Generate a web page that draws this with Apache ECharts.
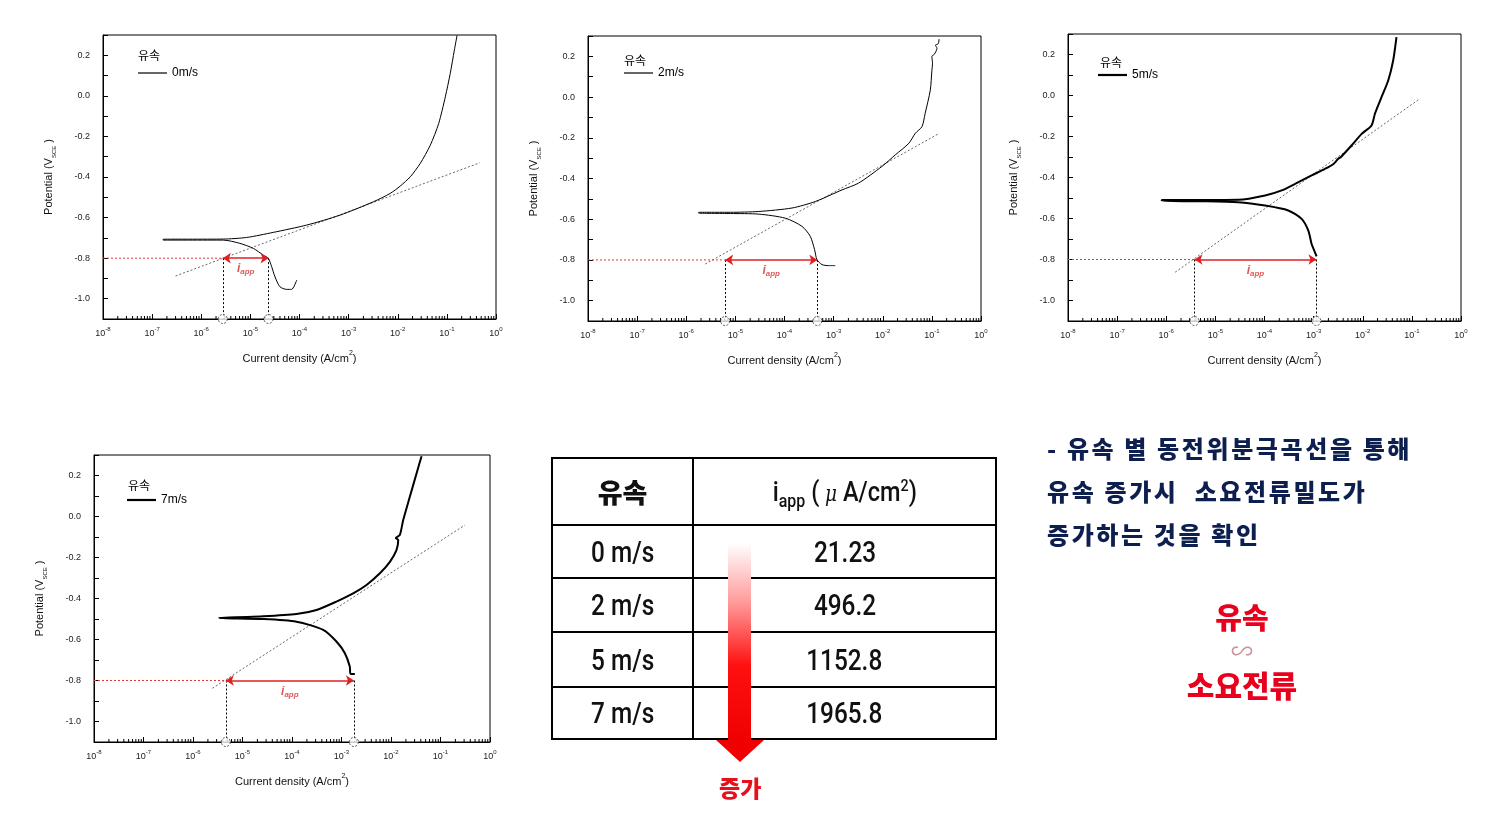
<!DOCTYPE html>
<html>
<head>
<meta charset="utf-8">
<script src="https://cdn.jsdelivr.net/npm/echarts@6/dist/echarts.min.js"></script>
<style>
  html, body { margin: 0; padding: 0; background: #fff; }
  #wrap { position: relative; width: 1506px; height: 823px; overflow: hidden; }
  #main { position: absolute; left: 0; top: 0; width: 1506px; height: 823px; }
  .ov { position: absolute; }
  .hl { position: absolute; background: #000; height: 2px; }
  .vl { position: absolute; background: #000; width: 2px; }
  .cell { position: absolute; display: flex; align-items: center; justify-content: center; color: #111; }
  .num { font-family: Roboto, "Liberation Sans", Arial, sans-serif; font-size: 29px; font-weight: 500; display: inline-block; transform: scaleX(0.84); }
  .kr { font-family: "Noto Sans CJK KR", sans-serif; }
</style>
</head>
<body>
<div id="wrap">
  <div id="main"></div>
  <div id="table"></div>
  <svg class="ov" style="left:0;top:0" width="1506" height="823">
    <defs>
      <linearGradient id="ag" gradientUnits="userSpaceOnUse" x1="0" y1="543" x2="0" y2="741">
        <stop offset="0" stop-color="#ffffff"/>
        <stop offset="0.3" stop-color="#ff9a9a"/>
        <stop offset="0.62" stop-color="#ff1010"/>
        <stop offset="1" stop-color="#f00000"/>
      </linearGradient>
    </defs>
    <rect x="728" y="543" width="23" height="198" fill="url(#ag)"/>
    <polygon points="716,740 764,740 740,762" fill="#f00000"/>
  </svg>
  <div class="ov kr" style="left:719px;top:771px;font-size:23px;font-weight:900;color:#e8101a;line-height:32px;">증가</div>
  <div class="ov kr" id="note" style="left:1047px;top:426px;font-size:24px;font-weight:900;color:#0c1f4e;line-height:43px;white-space:pre;letter-spacing:2.6px;"></div>
  <div class="ov kr" style="left:1142px;top:597px;width:200px;text-align:center;font-size:29px;font-weight:900;color:#e8001c;line-height:38px;">유속</div>
  <div class="ov kr" style="left:1142px;top:636px;width:200px;text-align:center;font-size:22px;color:#c9929c;line-height:26px;">∽</div>
  <div class="ov kr" style="left:1142px;top:665px;width:200px;text-align:center;font-size:30px;font-weight:900;color:#e8001c;line-height:38px;">소요전류</div>
</div>
<script>
// ---------- data ----------
const speeds = ['0m/s', '2m/s', '5m/s', '7m/s'];
const yTicks = ['0.2', '0.0', '-0.2', '-0.4', '-0.6', '-0.8', '-1.0'];

// polarization curves [current density (A/cm2), potential (V_SCE)]
const curve0 = [[8.8e-5,-0.908],[6.9e-5,-0.954],[5.5e-5,-0.954],[4.0e-5,-0.941],[3.17e-5,-0.892],[2.71e-5,-0.842],[2.32e-5,-0.801],[1.83e-5,-0.785],[1.15e-5,-0.752],[6.1e-6,-0.727],[2.8e-6,-0.711],[1.67e-7,-0.711],[1.67e-7,-0.707],[2.8e-6,-0.706],[8.4e-6,-0.698],[2.93e-5,-0.673],[1.4e-4,-0.637],[6.7e-4,-0.588],[3.2e-3,-0.522],[7.0e-3,-0.481],[1.12e-2,-0.445],[1.8e-2,-0.399],[2.87e-2,-0.333],[4.6e-2,-0.243],[6.8e-2,-0.137],[9.3e-2,-0.005],[0.117,0.110],[0.142,0.225],[0.161,0.298]];
const curve2 = [[1.08e-3,-0.828],[7.9e-4,-0.828],[5.8e-4,-0.823],[4.58e-4,-0.799],[4.1e-4,-0.750],[3.35e-4,-0.684],[2.27e-4,-0.635],[1.04e-4,-0.595],[3.0e-5,-0.575],[8e-6,-0.572],[1.79e-6,-0.570],[1.79e-6,-0.566],[8e-6,-0.566],[3.0e-5,-0.562],[1.42e-4,-0.545],[4.24e-4,-0.513],[1.48e-3,-0.456],[3.2e-3,-0.423],[9.6e-3,-0.341],[1.8e-2,-0.284],[3.4e-2,-0.227],[4.6e-2,-0.178],[6.3e-2,-0.145],[7.3e-2,-0.080],[9.3e-2,0.035],[0.100,0.130],[0.103,0.166],[0.100,0.200],[0.112,0.210],[0.127,0.240],[0.118,0.255],[0.135,0.262],[0.140,0.285]];
const curve5 = [[1.15e-3,-0.785],[1.06e-3,-0.764],[9.1e-4,-0.724],[7.8e-4,-0.659],[5.7e-4,-0.602],[3.05e-4,-0.561],[1.03e-4,-0.537],[2.9e-5,-0.521],[5e-6,-0.516],[8.1e-7,-0.514],[8.1e-7,-0.510],[5e-6,-0.510],[2.94e-5,-0.509],[1.03e-4,-0.488],[2.24e-4,-0.463],[4.18e-4,-0.431],[9.1e-4,-0.390],[1.7e-3,-0.358],[2.5e-3,-0.335],[3.17e-3,-0.309],[3.6e-3,-0.300],[5.9e-3,-0.244],[9.5e-3,-0.187],[1.51e-2,-0.146],[1.77e-2,-0.089],[2.41e-2,-0.008],[3.3e-2,0.073],[4.16e-2,0.171],[4.86e-2,0.285]];
const curve7 = [[1.86e-3,-0.768],[1.52e-3,-0.768],[1.47e-3,-0.732],[1.17e-3,-0.667],[7.9e-4,-0.610],[4.26e-4,-0.553],[1.23e-4,-0.513],[2.6e-5,-0.500],[3.37e-6,-0.495],[3.37e-6,-0.492],[2.6e-5,-0.487],[1.23e-4,-0.476],[3.12e-4,-0.456],[7.9e-4,-0.415],[1.72e-3,-0.375],[3.2e-3,-0.334],[5.96e-3,-0.277],[9.5e-3,-0.221],[1.29e-2,-0.164],[1.4e-2,-0.115],[1.25e-2,-0.105],[1.51e-2,-0.090],[1.76e-2,-0.018],[2.4e-2,0.096],[3.28e-2,0.210],[4.14e-2,0.294]];
const curves = [curve0, curve2, curve5, curve7];

// Tafel extrapolation lines (two end points each)
const tafel0 = [[3.0e-7,-0.888],[0.466,-0.330]];
const tafel2 = [[2.44e-6,-0.820],[0.142,-0.178]];
const tafel5 = [[1.52e-6,-0.862],[0.145,-0.016]];
const tafel7 = [[2.47e-6,-0.838],[0.311,-0.042]];
const tafels = [tafel0, tafel2, tafel5, tafel7];

// i_app bounds at -0.8 V [left, right] (A/cm2)
const iapp0 = [2.75e-6, 2.34e-5];
const iapp2 = [6.2e-6, 4.65e-4];
const iapp5 = [3.76e-6, 1.14e-3];
const iapp7 = [4.6e-6, 1.78e-3];
const iapps = [iapp0, iapp2, iapp5, iapp7];
const protectPotential = -0.8;

// table
const tableSpeeds = ['0 m/s', '2 m/s', '5 m/s', '7 m/s'];
const tableIapp = ['21.23', '496.2', '1152.8', '1965.8'];
const noteLines = ['- 유속 별 동전위분극곡선을 통해', '유속 증가시  소요전류밀도가', '증가하는 것을 확인'];

// ---------- layout ----------
const grids = [
  {left: 103, top: 35, width: 393, height: 284},
  {left: 588, top: 36, width: 393, height: 285},
  {left: 1068, top: 34, width: 393, height: 287},
  {left: 94, top: 455, width: 396, height: 287}
];
const legendPos = [
  {title: [138, 49], legend: [138, 67]},
  {title: [624, 54], legend: [624, 67]},
  {title: [1100, 56], legend: [1098, 69]},
  {title: [128, 479], legend: [127, 494]}
];
const curveWidth = [1, 1, 2, 2];

const xMin = 1e-8, xMax = 1, yMin = -1.1, yMax = 0.3;
const minorTicks = [];
for (let n = -8; n < 0; n++) for (let k = 2; k <= 9; k++) minorTicks.push([k * Math.pow(10, n), yMin]);

const FONT = '"Liberation Sans", Arial, sans-serif';
const option = {
  animation: false,
  grid: grids.map(g => Object.assign({show: true, borderColor: '#000', borderWidth: 1, containLabel: false}, g)),
  title: legendPos.map(p => ({text: '유속', left: p.title[0], top: p.title[1], padding: 0,
    textStyle: {fontSize: 12, fontWeight: 'normal', color: '#000', fontFamily: '"Noto Sans CJK KR", sans-serif'}})),
  legend: legendPos.map((p, k) => ({data: [speeds[k]], left: p.legend[0], top: p.legend[1], padding: 0,
    icon: 'rect', itemWidth: 29, itemHeight: curveWidth[k] + 0.2, itemGap: 0, selectedMode: false,
    textStyle: {fontSize: 12, color: '#000', fontFamily: FONT}})),
  xAxis: grids.map((g, k) => ({
    type: 'log', logBase: 10, gridIndex: k, min: xMin, max: xMax, splitNumber: 8,
    axisLine: {show: true, onZero: false, lineStyle: {color: '#000', width: 1}},
    axisTick: {show: true, inside: true, length: 5, lineStyle: {color: '#000'}},
    splitLine: {show: false}, minorTick: {show: false},
    axisLabel: {
      margin: 7, color: '#222',
      formatter: v => '{b|10}{e|' + Math.round(Math.log10(v)) + '}',
      rich: {b: {fontSize: 9, fontFamily: FONT, color: '#222', lineHeight: 12, verticalAlign: 'bottom'},
             e: {fontSize: 6, fontFamily: FONT, color: '#222', lineHeight: 7, verticalAlign: 'top'}}
    },
    name: '{t|Current density (A/cm}{s|2}{t|)}', nameLocation: 'middle', nameGap: 31,
    nameTextStyle: {rich: {t: {fontSize: 11, fontFamily: FONT, color: '#111', lineHeight: 14, verticalAlign: 'bottom'},
                           s: {fontSize: 7, fontFamily: FONT, color: '#111', lineHeight: 9, verticalAlign: 'top'}}}
  })),
  yAxis: grids.map((g, k) => ({
    type: 'value', gridIndex: k, min: yMin, max: yMax, interval: 0.1,
    axisLine: {show: true, onZero: false, lineStyle: {color: '#000', width: 1}},
    axisTick: {show: true, inside: true, length: 5, lineStyle: {color: '#000'}},
    splitLine: {show: false},
    axisLabel: {
      margin: 13, color: '#222', fontSize: 9, fontFamily: FONT,
      formatter: v => { const r = Math.round(v * 10); const s = (r / 10).toFixed(1); return yTicks.indexOf(s) >= 0 ? s : ''; }
    },
    name: '{t|Potential (V}{s|SCE}{t| )}', nameLocation: 'middle', nameRotate: 90, nameGap: 46,
    nameTextStyle: {rich: {t: {fontSize: 11, fontFamily: FONT, color: '#111', lineHeight: 14, verticalAlign: 'top'},
                           s: {fontSize: 6, fontFamily: FONT, color: '#111', lineHeight: 14, verticalAlign: 'bottom'}}}
  })),
  series: []
};

grids.forEach((g, k) => {
  const [a, b] = iapps[k];
  option.series.push(
    {type: 'custom', xAxisIndex: k, yAxisIndex: k, data: minorTicks, silent: true, clip: false,
     renderItem: (params, api) => {
       const p = api.coord([api.value(0), api.value(1)]);
       return {type: 'line', shape: {x1: p[0], y1: p[1], x2: p[0], y2: p[1] - 3}, style: {stroke: '#000', lineWidth: 1}};
     }},
    {type: 'line', name: speeds[k], xAxisIndex: k, yAxisIndex: k, data: curves[k], showSymbol: false, symbol: 'none',
     smooth: 0.25, lineStyle: {color: '#000', width: curveWidth[k]}, itemStyle: {color: '#000'}, z: 5},
    {type: 'line', xAxisIndex: k, yAxisIndex: k, data: tafels[k], showSymbol: false, symbol: 'none',
     lineStyle: {color: '#666', width: 1, type: [2, 2]}, z: 4},
    {type: 'line', xAxisIndex: k, yAxisIndex: k, data: [[xMin, protectPotential], [a, protectPotential]], showSymbol: false, symbol: 'none',
     lineStyle: {color: '#e03a3a', width: 1, type: [2, 2]}, z: 4},
    {type: 'lines', coordinateSystem: 'cartesian2d', xAxisIndex: k, yAxisIndex: k, polyline: false,
     symbol: ['none', 'none'],
     data: [{coords: [[a, protectPotential], [a, yMin]]}, {coords: [[b, protectPotential], [b, yMin]]}],
     lineStyle: {color: '#000', width: 1, type: [2, 2], opacity: 1}, z: 4},
    {type: 'lines', coordinateSystem: 'cartesian2d', xAxisIndex: k, yAxisIndex: k, polyline: false,
     symbol: ['arrow', 'arrow'], symbolSize: 8,
     data: [{coords: [[a, protectPotential], [b, protectPotential]]}],
     lineStyle: {color: '#e02020', width: 1.5, opacity: 1}, itemStyle: {color: '#e02020'}, z: 6},
    {type: 'scatter', xAxisIndex: k, yAxisIndex: k, data: [[a, yMin], [b, yMin]], symbol: 'circle', symbolSize: 9,
     itemStyle: {color: '#fff', borderColor: '#333', borderWidth: 1, borderType: [2, 1.5]}, clip: false, z: 7},
    {type: 'scatter', xAxisIndex: k, yAxisIndex: k, data: [[Math.sqrt(a * b), protectPotential]], symbolSize: 0,
     label: {show: true, position: 'bottom', distance: 4, formatter: '{i|i}{s|app}',
             rich: {i: {fontSize: 12, fontWeight: 'bold', fontStyle: 'italic', color: '#d63030', fontFamily: FONT, lineHeight: 14, verticalAlign: 'middle'},
                    s: {fontSize: 8, fontWeight: 'bold', fontStyle: 'italic', color: '#d63030', fontFamily: FONT, lineHeight: 6, verticalAlign: 'bottom'}}},
     z: 7}
  );
});

const chart = echarts.init(document.getElementById('main'), null, {renderer: 'canvas'});
chart.setOption(option);

// ---------- table (HTML) ----------
const colX = [552, 693, 996];
const rowY = [458, 525, 578, 632, 687, 739];
const tbl = document.getElementById('table');
let html = '';
rowY.forEach(y => { html += `<div class="hl" style="left:${colX[0] - 1}px;top:${y - 1}px;width:${colX[2] - colX[0] + 2}px"></div>`; });
colX.forEach(x => { html += `<div class="vl" style="left:${x - 1}px;top:${rowY[0] - 1}px;height:${rowY[5] - rowY[0] + 2}px"></div>`; });
const cell = (i, j, inner) => `<div class="cell" style="left:${colX[j]}px;top:${rowY[i]}px;width:${colX[j + 1] - colX[j]}px;height:${rowY[i + 1] - rowY[i]}px">${inner}</div>`;
html += cell(0, 0, '<span class="kr" style="font-size:27px;font-weight:900;">유속</span>');
html += cell(0, 1, '<span class="num" style="font-size:28px;">i<span style="font-size:19px;position:relative;top:6px;">app</span> ( <span style="font-family:\'DejaVu Serif\',serif;font-style:italic;font-size:22px;">μ</span> A/cm<span style="font-size:17px;position:relative;top:-10px;">2</span>)</span>');
tableSpeeds.forEach((s, r) => {
  html += cell(r + 1, 0, `<span class="num">${s}</span>`);
  html += cell(r + 1, 1, `<span class="num">${tableIapp[r]}</span>`);
});
tbl.innerHTML = html;
document.getElementById('note').textContent = noteLines.join('\n');
</script>
</body>
</html>
